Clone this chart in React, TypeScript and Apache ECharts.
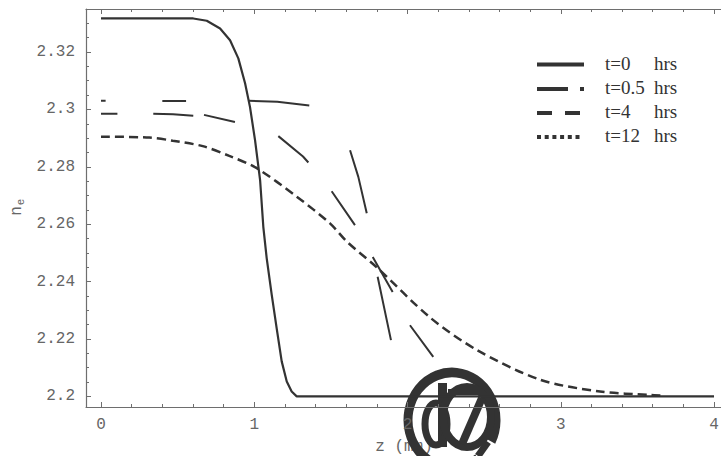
import React, { useEffect, useRef } from "react";
import * as echarts from "echarts";

// ---- data ----
const xMajor = [0, 1, 2, 3, 4];
const xMinor = [0.2, 0.4, 0.6, 0.8, 1.2, 1.4, 1.6, 1.8, 2.2, 2.4, 2.6, 2.8, 3.2, 3.4, 3.6, 3.8];
const yMajor = [2.2, 2.22, 2.24, 2.26, 2.28, 2.3, 2.32];
const yMinor = [
  2.205, 2.21, 2.215, 2.225, 2.23, 2.235, 2.245, 2.25, 2.255, 2.265, 2.27, 2.275,
  2.285, 2.29, 2.295, 2.305, 2.31, 2.315, 2.325, 2.33,
];

// t = 0 hrs (solid)
const t0Z = [0, 0.3, 0.602, 0.69, 0.777, 0.842, 0.896, 0.94, 0.972, 1.005, 1.038, 1.059, 1.081, 1.114, 1.146, 1.179, 1.212, 1.244, 1.277, 2, 3, 4];
const t0V = [2.3317, 2.3317, 2.3317, 2.3309, 2.3282, 2.3241, 2.3178, 2.3091, 2.3009, 2.2893, 2.2754, 2.2591, 2.2482, 2.2354, 2.2238, 2.2122, 2.2052, 2.2017, 2.2, 2.2, 2.2, 2.2];

// t = 0.5 hrs (broken long dashes; null = gap)
const t05Z = [0, 0.03, null, 0.4, 0.555, null, 0.961, 1.15, 1.359, null, 1.625, 1.679, 1.734, null, 1.805, 1.892];
const t05V = [2.303, 2.303, null, 2.3029, 2.3029, null, 2.303, 2.3027, 2.3014, null, 2.2858, 2.2765, 2.2638, null, 2.2417, 2.2196];

// t = 4 hrs (broken dashes; null = gap)
const t4Z = [0, 0.107, null, 0.341, 0.47, 0.602, null, 0.672, 0.874, null, 1.157, 1.318, 1.353, null, 1.505, 1.657, null, 1.773, 1.903, null, 2.016, 2.168];
const t4V = [2.2985, 2.2985, null, 2.2985, 2.2983, 2.2978, null, 2.2981, 2.2956, null, 2.2907, 2.2836, 2.2815, null, 2.2715, 2.2597, null, 2.2486, 2.2364, null, 2.2248, 2.2138];

// t = 12 hrs (dashed)
const t12Z = [0, 0.315, 0.468, 0.664, 0.837, 1.011, 1.277, 1.494, 1.603, 1.799, 2.147, 2.452, 2.865, 3.256, 3.58, 3.65];
const t12V = [2.2905, 2.2902, 2.2891, 2.2872, 2.2838, 2.2797, 2.2696, 2.2603, 2.254, 2.245, 2.2275, 2.2162, 2.2058, 2.2017, 2.2005, 2.2003];

const legendLabels = ["t=0", "t=0.5", "t=4", "t=12"];
const legendUnit = "hrs";
const xName = "z (mm)";
const yNameMain = "n";
const yNameSub = "e";

// ---- layout / style ----
const X_MIN = -0.098;
const X_MAX = 4.0586;
const Y_MIN = 2.1963;
const Y_MAX = 2.335;
const INK = "#333";
const AXIS = "#6e6e6e";
const LABEL = "#666";
const MONO = "'Liberation Mono', 'DejaVu Sans Mono', monospace";
const SERIF = "'Liberation Serif', 'DejaVu Serif', serif";

function pairs(zs: (number | null)[], vs: (number | null)[]) {
  return zs.map((z, i) => (z === null ? [zs[i - 1] as number, "-"] : [z, vs[i] as number]));
}

function fmtY(v: number) {
  return String(parseFloat(v.toFixed(3)));
}

function xAxisDef(position: "top" | "bottom", values: number[], len: number, showLine: boolean, labels: boolean) {
  return {
    type: "value",
    position,
    min: X_MIN,
    max: X_MAX,
    splitLine: { show: false },
    axisLine: { show: showLine, onZero: false, lineStyle: { color: AXIS, width: 1.2 } },
    axisTick: { show: true, inside: true, length: len, customValues: values, lineStyle: { color: AXIS, width: 1 } },
    axisLabel: labels
      ? { show: true, customValues: xMajor, margin: 10, color: LABEL, fontFamily: MONO, fontSize: 16, formatter: (v: number) => String(v) }
      : { show: false },
  };
}

function yAxisDef(position: "left" | "right", values: number[], len: number, showLine: boolean, labels: boolean) {
  return {
    type: "value",
    position,
    min: Y_MIN,
    max: Y_MAX,
    splitLine: { show: false },
    axisLine: { show: showLine, onZero: false, lineStyle: { color: AXIS, width: 1.2 } },
    axisTick: { show: true, inside: true, length: len, customValues: values, lineStyle: { color: AXIS, width: 1 } },
    axisLabel: labels
      ? { show: true, customValues: yMajor, margin: 11, color: LABEL, fontFamily: MONO, fontSize: 16, formatter: fmtY }
      : { show: false },
  };
}

export default function App() {
  const ref = useRef<HTMLDivElement>(null);

  useEffect(() => {
    if (!ref.current) return;
    const chart = echarts.init(ref.current, null, { renderer: "svg" });

    const legendX1 = 537;
    const legendX2 = 584;
    const rowY = [64.5, 89, 113, 137];

    const legendGraphics: any[] = [
      { type: "line", shape: { x1: legendX1, y1: rowY[0], x2: legendX2, y2: rowY[0] }, style: { stroke: INK, lineWidth: 4 } },
      { type: "line", shape: { x1: legendX1, y1: rowY[1], x2: 568, y2: rowY[1] }, style: { stroke: INK, lineWidth: 4 } },
      { type: "line", shape: { x1: 580, y1: rowY[1], x2: legendX2, y2: rowY[1] }, style: { stroke: INK, lineWidth: 4 } },
      { type: "line", shape: { x1: legendX1, y1: rowY[2], x2: 552, y2: rowY[2] }, style: { stroke: INK, lineWidth: 4 } },
      { type: "line", shape: { x1: 565, y1: rowY[2], x2: 580, y2: rowY[2] }, style: { stroke: INK, lineWidth: 4 } },
      { type: "line", shape: { x1: legendX1, y1: rowY[3], x2: 581, y2: rowY[3] }, style: { stroke: INK, lineWidth: 4, lineDash: [4, 3.7] } },
    ];
    legendLabels.forEach((lab, i) => {
      legendGraphics.push({
        type: "text",
        x: 605,
        y: rowY[i] - 1.5,
        style: { text: lab, fontFamily: SERIF, fontSize: 19, fill: INK, align: "left", verticalAlign: "middle" },
      });
      legendGraphics.push({
        type: "text",
        x: 654,
        y: rowY[i] - 1.5,
        style: { text: legendUnit, fontFamily: SERIF, fontSize: 19, fill: INK, align: "left", verticalAlign: "middle" },
      });
    });

    // stamp-like "@" mark drawn from shapes, lying over the axis title
    const stamp: any = {
      type: "group",
      z: 100,
      silent: true,
      children: [
        {
          type: "arc",
          shape: { cx: 452, cy: 420, r: 44, startAngle: Math.PI * 0.3, endAngle: Math.PI * 2.15 },
          scaleY: 1.08,
          originX: 452,
          originY: 420,
          style: { stroke: INK, lineWidth: 9, fill: "none" },
        },
        { type: "line", shape: { x1: 488, y1: 442, x2: 478, y2: 456 }, style: { stroke: INK, lineWidth: 7 } },
        { type: "rect", shape: { x: 438, y: 383, width: 9, height: 64 }, style: { fill: INK } },
        {
          type: "ellipse",
          shape: { cx: 436, cy: 424, rx: 11, ry: 21 },
          style: { stroke: INK, lineWidth: 7, fill: "none" },
        },
        {
          type: "ellipse",
          shape: { cx: 467, cy: 417, rx: 24, ry: 30 },
          style: { stroke: INK, lineWidth: 8, fill: "none" },
        },
        { type: "line", shape: { x1: 482, y1: 398, x2: 462, y2: 444 }, style: { stroke: INK, lineWidth: 8 } },
        { type: "line", shape: { x1: 448, y1: 392, x2: 480, y2: 392 }, style: { stroke: INK, lineWidth: 6 } },
      ],
    };

    chart.setOption({
      animation: false,
      backgroundColor: "#ffffff",
      grid: { left: 86, top: 9, width: 637, height: 398, containLabel: false, outerBoundsMode: "none" },
      xAxis: [
        xAxisDef("bottom", xMajor, 5, true, true),
        xAxisDef("bottom", xMinor, 3, false, false),
        xAxisDef("top", xMajor, 5, true, false),
        xAxisDef("top", xMinor, 3, false, false),
      ],
      yAxis: [
        yAxisDef("left", yMajor, 5, true, true),
        yAxisDef("left", yMinor, 3, false, false),
      ],
      series: [
        {
          name: "t=0 hrs",
          type: "line",
          data: pairs(t0Z, t0V),
          symbol: "none",
          lineStyle: { color: INK, width: 2.2 },
          z: 4,
          silent: true,
        },
        {
          name: "t=0.5 hrs",
          type: "line",
          data: pairs(t05Z, t05V),
          symbol: "none",
          connectNulls: false,
          lineStyle: { color: INK, width: 2 },
          z: 3,
          silent: true,
        },
        {
          name: "t=4 hrs",
          type: "line",
          data: pairs(t4Z, t4V),
          symbol: "none",
          connectNulls: false,
          lineStyle: { color: INK, width: 2 },
          z: 3,
          silent: true,
        },
        {
          name: "t=12 hrs",
          type: "line",
          data: pairs(t12Z, t12V),
          symbol: "none",
          smooth: 0.3,
          lineStyle: { color: INK, width: 2.5, type: [9, 5] },
          z: 3,
          silent: true,
        },
      ],
      graphic: [
        ...legendGraphics,
        {
          type: "text",
          x: 17,
          y: 211,
          rotation: Math.PI / 2,
          style: { text: yNameMain, fontFamily: MONO, fontSize: 16, fill: LABEL, align: "center", verticalAlign: "middle" },
        },
        {
          type: "text",
          x: 21,
          y: 202,
          rotation: Math.PI / 2,
          style: { text: yNameSub, fontFamily: MONO, fontSize: 11, fill: LABEL, align: "center", verticalAlign: "middle" },
        },
        {
          type: "text",
          x: 404,
          y: 447,
          style: { text: xName, fontFamily: MONO, fontSize: 16, fill: LABEL, align: "center", verticalAlign: "middle" },
        },
        stamp,
      ],
    });

    return () => chart.dispose();
  }, []);

  return <div ref={ref} style={{ position: "absolute", left: 0, top: 0, width: 721, height: 456 }} />;
}
